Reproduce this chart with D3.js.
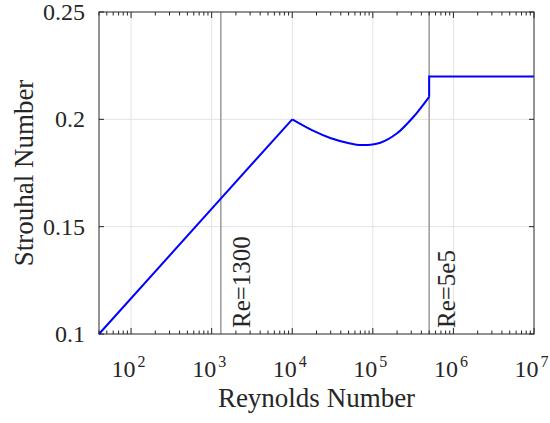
<!DOCTYPE html>
<html>
<head>
<meta charset="utf-8">
<script src="https://cdn.jsdelivr.net/npm/d3@7"></script>
<style>
  body { margin: 0; background: #fff; }
  text { font-family: "Liberation Serif", "Times New Roman", serif; fill: #262626; }
</style>
</head>
<body>
<div id="chart"></div>
<script>
// straight rise, curved dip, jump to plateau
const riseRe = [40, 1e4];
const riseSt = [0.1, 0.2];
const dipRe = [1e4, 1.84e4, 2.96e4, 4.79e4, 7.3e4, 1.24e5, 2.0e5, 3.2e5, 5e5];
const dipSt = [0.2, 0.1946, 0.1913, 0.1891, 0.188, 0.1891, 0.1935, 0.2012, 0.2105];
const flatRe = [5e5, 5e5, 1e7];
const flatSt = [0.2105, 0.22, 0.22];

const markers = [1300, 5e5];
const markerLabels = ["Re=1300", "Re=5e5"];
const yTicks = [0.1, 0.15, 0.2, 0.25];
const yTickLabels = ["0.1", "0.15", "0.2", "0.25"];
const xTicks = [1e2, 1e3, 1e4, 1e5, 1e6, 1e7];
const xExponents = ["2", "3", "4", "5", "6", "7"];

const W = 550, H = 423;
const margin = {top: 12, right: 16, bottom: 89, left: 99};

const svg = d3.select("#chart").append("svg")
    .attr("width", W)
    .attr("height", H);

const x = d3.scaleLog().domain([40, 1e7]).range([margin.left, W - margin.right]);
const y = d3.scaleLinear().domain([0.1, 0.25]).range([H - margin.bottom, margin.top]);

const x0 = x.range()[0], x1 = x.range()[1];
const y0 = y.range()[0], y1 = y.range()[1];

// grid
svg.append("g").selectAll("line").data(xTicks.slice(0, -1)).join("line")
    .attr("x1", d => x(d)).attr("x2", d => x(d))
    .attr("y1", y0).attr("y2", y1)
    .attr("stroke", "#e3e3e3").attr("stroke-width", 1);
svg.append("g").selectAll("line").data(yTicks.slice(1, -1)).join("line")
    .attr("x1", x0).attr("x2", x1)
    .attr("y1", d => y(d)).attr("y2", d => y(d))
    .attr("stroke", "#e3e3e3").attr("stroke-width", 1);

// marker lines
svg.append("g").selectAll("line").data(markers).join("line")
    .attr("x1", d => x(d)).attr("x2", d => x(d))
    .attr("y1", y0).attr("y2", y1)
    .attr("stroke", "#9a9a9a").attr("stroke-width", 1.5);

svg.append("g").selectAll("text").data(markers).join("text")
    .attr("transform", (d, i) => `translate(${x(d) + (i == 0 ? 29 : 26)}, ${y0 - 6}) rotate(-90)`)
    .attr("font-size", 25)
    .text((d, i) => markerLabels[i]);

// minor ticks (log)
const minor = [];
for (let e = 1; e < 7; e++) {
  for (let m = 1; m < 10; m++) {
    const v = m * Math.pow(10, e);
    if (v >= 40 && v <= 1e7) minor.push(v);
  }
}
minor.push(1e7);

const tickG = svg.append("g").attr("stroke", "#262626").attr("stroke-width", 1);
minor.forEach(v => {
  const major = Math.abs(Math.log10(v) - Math.round(Math.log10(v))) < 1e-9;
  const len = major ? 6 : 3.5;
  tickG.append("line").attr("x1", x(v)).attr("x2", x(v)).attr("y1", y0).attr("y2", y0 - len);
  tickG.append("line").attr("x1", x(v)).attr("x2", x(v)).attr("y1", y1).attr("y2", y1 + len);
});
yTicks.forEach(v => {
  tickG.append("line").attr("x1", x0).attr("x2", x0 + 5).attr("y1", y(v)).attr("y2", y(v));
  tickG.append("line").attr("x1", x1).attr("x2", x1 - 5).attr("y1", y(v)).attr("y2", y(v));
});

// data line
const line = d3.line().x(d => x(d[0])).y(d => y(d[1]));
const zip = (a, b) => a.map((v, i) => [v, b[i]]);

svg.append("path").datum(zip(riseRe, riseSt))
    .attr("d", line)
    .attr("fill", "none").attr("stroke", "#0000ff").attr("stroke-width", 2);
svg.append("path").datum(zip(dipRe, dipSt))
    .attr("d", line.curve(d3.curveCatmullRom.alpha(0.5)))
    .attr("fill", "none").attr("stroke", "#0000ff").attr("stroke-width", 2);
svg.append("path").datum(zip(flatRe, flatSt))
    .attr("d", line.curve(d3.curveLinear))
    .attr("fill", "none").attr("stroke", "#0000ff").attr("stroke-width", 2);

// frame
svg.append("rect")
    .attr("x", x0).attr("y", y1)
    .attr("width", x1 - x0).attr("height", y0 - y1)
    .attr("fill", "none").attr("stroke", "#262626").attr("stroke-width", 1);

// y tick labels
svg.append("g").selectAll("text").data(yTicks).join("text")
    .attr("x", x0 - 14)
    .attr("y", d => y(d) + 8)
    .attr("text-anchor", "end")
    .attr("font-size", 24)
    .text((d, i) => yTickLabels[i]);

// x tick labels 10^n
const xl = svg.append("g").selectAll("text").data(xTicks).join("text")
    .attr("x", d => x(d) - 2.5)
    .attr("y", y0 + 43)
    .attr("text-anchor", "middle")
    .attr("font-size", 24);
xl.append("tspan").text("10");
xl.append("tspan").attr("dx", 2).attr("dy", -10).attr("font-size", 16)
    .text((d, i) => xExponents[i]);

// axis labels
svg.append("text")
    .attr("x", (x0 + x1) / 2)
    .attr("y", 407)
    .attr("text-anchor", "middle")
    .attr("font-size", 27)
    .text("Reynolds Number");

svg.append("text")
    .attr("transform", `translate(33, ${(y0 + y1) / 2}) rotate(-90)`)
    .attr("text-anchor", "middle")
    .attr("font-size", 27)
    .text("Strouhal Number");
</script>
</body>
</html>
